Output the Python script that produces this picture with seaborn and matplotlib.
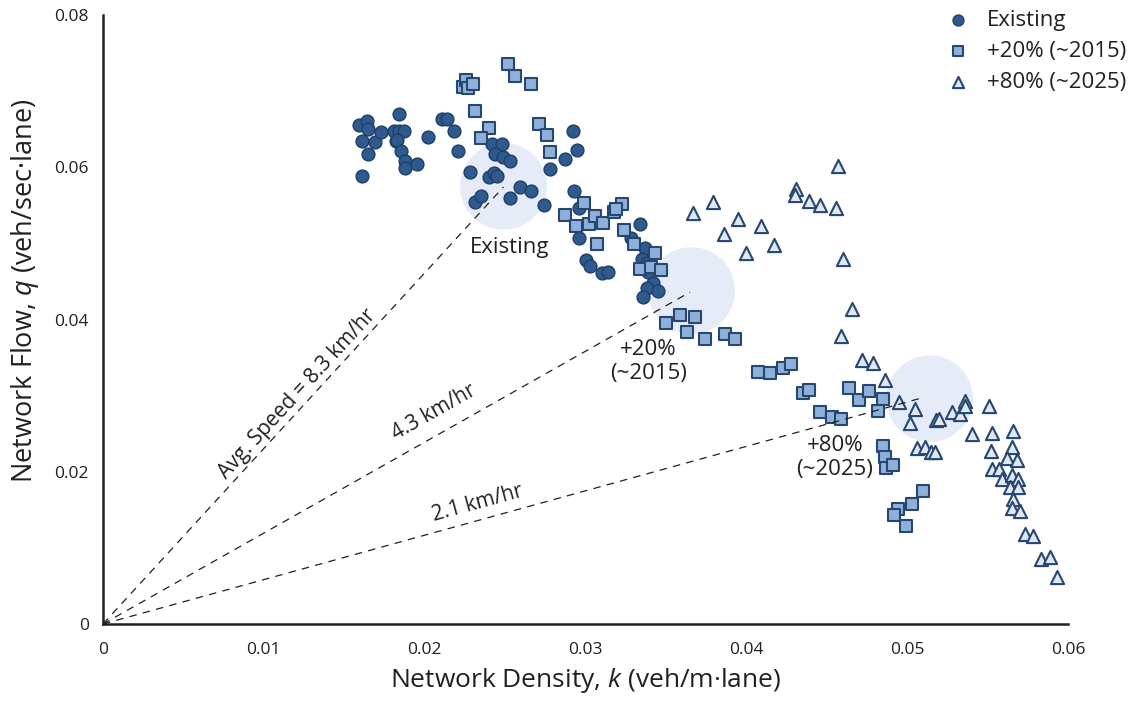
import numpy as np
import pandas as pd
import matplotlib
matplotlib.use('Agg')
import matplotlib.pyplot as plt
import seaborn as sns

# Existing network (circles)
existing_k = [.0159, .0164, .0165, .0161, .0169, .0165, .0161, .0173, .0181, .0184,
              .0184, .0187, .0182, .0183, .0185, .0188, .0188, .0195, .0202, .0211,
              .0214, .0218, .0221, .0228, .0231, .0235, .0242, .0248, .0244, .0249,
              .0253, .0240, .0243, .0245, .0253, .0259, .0266, .0278, .0287, .0292,
              .0295, .0293, .0274, .0296, .0296, .0300, .0303, .0310, .0314, .0334,
              .0328, .0337, .0335, .0338, .0339, .0342, .0338, .0345, .0336]
existing_q = [.0655, .0661, .0650, .0634, .0633, .0617, .0589, .0646, .0648, .0670,
              .0648, .0647, .0634, .0636, .0622, .0608, .0599, .0604, .0640, .0663,
              .0664, .0647, .0622, .0594, .0554, .0562, .0631, .0631, .0618, .0614,
              .0608, .0587, .0593, .0588, .0559, .0574, .0569, .0598, .0611, .0648,
              .0623, .0569, .0550, .0547, .0507, .0478, .0470, .0461, .0463, .0525,
              .0507, .0494, .0479, .0474, .0463, .0448, .0441, .0437, .0429]

# +20% (~2015) (squares)
p20_k = [.0252, .0256, .0266, .0224, .0226, .0227, .0230, .0231, .0240, .0235,
         .0271, .0276, .0278, .0299, .0287, .0294, .0302, .0306, .0311, .0318,
         .0323, .0319, .0307, .0324, .0330, .0343, .0334, .0341, .0347, .0350,
         .0359, .0368, .0363, .0374, .0387, .0393, .0407, .0415, .0423, .0428,
         .0435, .0439, .0446, .0453, .0459, .0464, .0470, .0476, .0485, .0482,
         .0485, .0486, .0487, .0491, .0510, .0503, .0494, .0492, .0499]
p20_q = [.0735, .0720, .0709, .0705, .0714, .0704, .0709, .0674, .0652, .0639,
         .0657, .0642, .0620, .0553, .0537, .0523, .0525, .0536, .0527, .0541,
         .0552, .0545, .0499, .0517, .0499, .0487, .0467, .0469, .0465, .0396,
         .0406, .0403, .0383, .0374, .0381, .0374, .0331, .0330, .0336, .0341,
         .0304, .0308, .0279, .0272, .0269, .0310, .0294, .0306, .0296, .0280,
         .0234, .0220, .0205, .0209, .0175, .0158, .0151, .0143, .0129]

# +80% (~2025) (triangles)
p80_k = [.0367, .0379, .0386, .0395, .0409, .0400, .0417, .0457, .0431, .0430,
         .0439, .0446, .0456, .0460, .0466, .0459, .0472, .0479, .0486, .0495,
         .0505, .0502, .0506, .0511, .0515, .0517, .0518, .0520, .0528, .0533,
         .0536, .0536, .0551, .0540, .0553, .0566, .0552, .0565, .0562, .0568,
         .0553, .0557, .0559, .0565, .0569, .0564, .0569, .0566, .0565, .0570,
         .0573, .0578, .0583, .0589, .0593]
p80_q = [.0540, .0555, .0512, .0532, .0523, .0487, .0498, .0602, .0571, .0564,
         .0556, .0551, .0546, .0479, .0414, .0378, .0347, .0343, .0321, .0292,
         .0283, .0264, .0231, .0233, .0226, .0226, .0268, .0269, .0278, .0276,
         .0293, .0286, .0286, .0250, .0251, .0253, .0227, .0232, .0218, .0215,
         .0203, .0203, .0190, .0196, .0191, .0180, .0180, .0164, .0152, .0148,
         .0118, .0116, .0085, .0088, .0062]

# average speed rays and highlighted operating points
speeds_kmh = [8.3, 4.3, 2.1]
ray_end_k = [.0249, .0365, .0510]
hl_k = [.0249, .0366, .0514]
hl_q = [.0575, .0438, .0296]
hl_labels = ['Existing', '+20%\n(~2015)', '+80%\n(~2025)']

sns.set_style('white')
plt.rcParams['font.family'] = ['Open Sans', 'DejaVu Sans']
plt.rcParams['mathtext.fontset'] = 'custom'
plt.rcParams['mathtext.it'] = 'Open Sans:italic'
plt.rcParams['mathtext.rm'] = 'Open Sans'
txt = '#231f20'

fig = plt.figure(figsize=(11.43, 7.04), dpi=100)
ax = fig.add_axes([0.0901, 0.1136, 0.8443, 0.8651])

# pale highlight discs
ax.scatter(hl_k, hl_q, s=3900, color='#e6ecf7', edgecolors='none', zorder=1)

df_ex = pd.DataFrame({'k': existing_k, 'q': existing_q})
df_20 = pd.DataFrame({'k': p20_k, 'q': p20_q})
df_80 = pd.DataFrame({'k': p80_k, 'q': p80_q})

sns.scatterplot(data=df_ex, x='k', y='q', ax=ax, marker='o', s=85,
                color='#2f5a8e', edgecolor='#1f3f68', linewidth=1.0,
                label='Existing', zorder=3)
sns.scatterplot(data=df_20, x='k', y='q', ax=ax, marker='s', s=75,
                color='#8fb0da', edgecolor='#26476f', linewidth=1.5,
                label='+20% (~2015)', zorder=4)
sns.scatterplot(data=df_80, x='k', y='q', ax=ax, marker='^', s=90,
                color='#dfe7f3', edgecolor='#26476f', linewidth=1.5,
                label='+80% (~2025)', zorder=5)

# dashed average-speed rays from the origin
for v, ke in zip(speeds_kmh, ray_end_k):
    kk = np.array([0, ke])
    ax.plot(kk, kk * v / 3.6, ls=(0, (6, 5)), color='#231f20', lw=0.9, zorder=6)

ax.text(.01205, .0302, 'Avg. Speed = 8.3 km/hr', rotation=47.5, ha='center',
        va='center', fontsize=15, color=txt, rotation_mode='anchor')
ax.text(.0206, .0278, '4.3 km/hr', rotation=29.5, ha='center', va='center',
        fontsize=15, color=txt, rotation_mode='anchor')
ax.text(.0233, .0158, '2.1 km/hr', rotation=15.4, ha='center', va='center',
        fontsize=15, color=txt, rotation_mode='anchor')

ax.text(.0253, .0495, hl_labels[0], ha='center', va='center', fontsize=16, color=txt)
ax.text(.0339, .0345, hl_labels[1], ha='center', va='center', fontsize=16,
        color=txt, linespacing=1.15)
ax.text(.0455, .0219, hl_labels[2], ha='center', va='center', fontsize=16,
        color=txt, linespacing=1.15)

ax.set_xlim(0, 0.06)
ax.set_ylim(0, 0.08)
ax.set_xticks([0, .01, .02, .03, .04, .05, .06])
ax.set_xticklabels(['0', '0.01', '0.02', '0.03', '0.04', '0.05', '0.06'])
ax.set_yticks([0, .02, .04, .06, .08])
ax.set_yticklabels(['0', '0.02', '0.04', '0.06', '0.08'])
ax.tick_params(axis='both', direction='out', length=4, width=1.2, color=txt,
               labelsize=12.5, labelcolor=txt, pad=6)
ax.tick_params(axis='x', pad=9)

for side in ['top', 'right']:
    ax.spines[side].set_visible(False)
for side in ['left', 'bottom']:
    ax.spines[side].set_color(txt)
    ax.spines[side].set_linewidth(1.8)

ax.set_xlabel('Network Density, $k$ (veh/m·lane)', fontsize=19, color=txt, labelpad=6)
ax.set_ylabel('Network Flow, $q$ (veh/sec·lane)', fontsize=19.5, color=txt)
ax.yaxis.set_label_coords(-0.064, 0.548)

leg = ax.legend(loc='upper right', bbox_to_anchor=(0.997, 1.005),
                bbox_transform=fig.transFigure, frameon=False, fontsize=16,
                markerscale=0.85, handletextpad=0.3, labelspacing=0.45,
                borderaxespad=0.2)
for t in leg.get_texts():
    t.set_color(txt)

fig.savefig('out.png', dpi=100)
